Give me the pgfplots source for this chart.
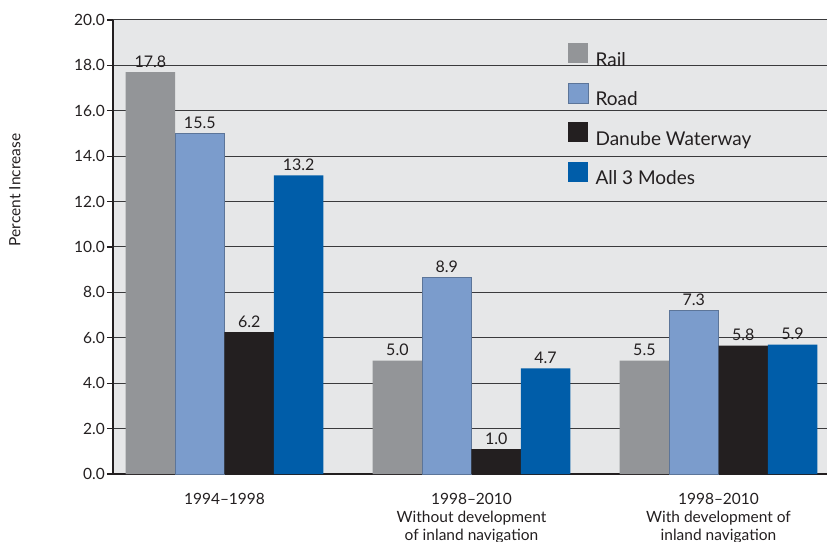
\documentclass[border=0pt]{standalone}
\usepackage{fontspec}
\setmainfont{Lato}
\usepackage{pgfplots}
\pgfplotsset{compat=1.18}
\definecolor{railgray}{HTML}{939598}
\definecolor{roadblue}{HTML}{7B9CCC}
\definecolor{danube}{HTML}{231F20}
\definecolor{allblue}{HTML}{005DA9}
\definecolor{bggray}{HTML}{E6E7E8}
\definecolor{gridc}{HTML}{3A3A3C}
\begin{document}
\begin{tikzpicture}
\begin{axis}[
  at={(0,0)}, anchor=south west,
  width=714bp, height=454bp, scale only axis,
  xmin=-0.4514, xmax=2.4393,
  ymin=0, ymax=20,
  axis x line*=bottom, axis y line*=left,
  x axis line style={-, line width=1.2bp, color=danube},
  y axis line style={-, line width=1.2bp, color=danube},
  axis background/.style={fill=bggray},
  ymajorgrids, grid style={line width=1bp, color=gridc},
  ytick={0,2,...,20},
  yticklabel style={/pgf/number format/fixed, /pgf/number format/fixed zerofill, /pgf/number format/precision=1, /pgf/number format/assume math mode=true},
  yticklabel style={font=\fontsize{15.5bp}{18bp}\selectfont, color=danube, inner sep=2bp},
  tick align=outside, major tick length=6bp,
  ytick style={line width=1.2bp, color=danube},
  xtick={0,1,2},
  xtick style={draw=none},
  xticklabels={{1994--1998},{1998--2010\\Without development\\of inland navigation},{1998--2010\\With development of\\inland navigation}},
  xticklabel style={align=center, font=\fontsize{15.5bp}{18bp}\selectfont, color=danube, inner sep=0pt, yshift=-13bp},
  ylabel={Percent Increase},
  ylabel style={at={(axis description cs:-0.1373,0.6256)}, anchor=center, font=\fontsize{15.5bp}{18bp}\selectfont, color=danube},
  ybar, bar width=0.2, bar shift=0pt,
  point meta=explicit symbolic,
  nodes near coords,
  every node near coord/.append style={font=\fontsize{16bp}{18bp}\selectfont, color=danube, inner sep=4.5bp},
  legend image code/.code={\fill[#1] (0bp,-1bp) rectangle (20bp,19bp);},
  legend style={at={(rel axis cs:0.633,0.9537)}, anchor=north west, draw=none, fill=none,
    font=\fontsize{19bp}{22bp}\selectfont, text=danube,
    nodes={inner sep=0pt, text height=14bp, text depth=6bp},
    column sep=7bp, row sep=10.5bp},
  legend cell align=left,
]
\addplot[fill=railgray, draw=none] coordinates {(-0.3,17.7) [17.8] (0.7,5.0) [5.0] (1.7,5.0) [5.5]};
\addlegendentry{Rail}
\addplot[fill=roadblue, draw=roadblue!75!black, line width=0.4bp] coordinates {(-0.1,15.0) [15.5] (0.9,8.65) [8.9] (1.9,7.2) [7.3]};
\addlegendentry{Road}
\addplot[fill=danube, draw=none] coordinates {(0.1,6.25) [6.2] (1.1,1.1) [1.0] (2.1,5.65) [5.8]};
\addlegendentry{Danube Waterway}
\addplot[fill=allblue, draw=none] coordinates {(0.3,13.15) [13.2] (1.3,4.65) [4.7] (2.3,5.7) [5.9]};
\addlegendentry{All 3 Modes}
\end{axis}
\pgfresetboundingbox
\path[use as bounding box] (-113bp,-68bp) rectangle (714bp,474bp);
\end{tikzpicture}
\end{document}
